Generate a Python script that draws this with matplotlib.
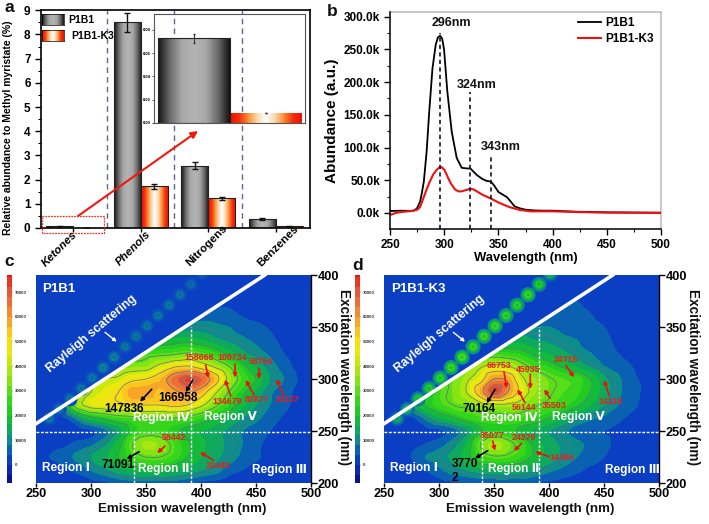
import numpy as np
import matplotlib
matplotlib.use("Agg")
import matplotlib.pyplot as plt
import matplotlib.tri as mtri
from matplotlib.colors import LinearSegmentedColormap, Normalize
from matplotlib.patches import Polygon, Rectangle

plt.rcParams['font.family'] = ['Liberation Sans', 'DejaVu Sans']
plt.rcParams['font.weight'] = 'bold'
plt.rcParams['axes.labelweight'] = 'bold'

W, H = 709, 524

# ---------------------------
# DATA
# ---------------------------
categories = ['Ketones', 'Phenols', 'Nitrogens', 'Benzenes']
p1b1_vals = [0.07, 8.5, 2.58, 0.38]
p1b1_err = [0.01, 0.4, 0.13, 0.03]
k3_vals = [0.008, 1.72, 1.22, 0.07]
k3_err = [0.001, 0.1, 0.07, 0.01]
inset_vals = [0.0725, 0.0085]
inset_err = [0.004, 0.0003]

wl_p1b1 = [250, 260, 270, 273, 275, 277.5, 279, 281, 283.6, 286, 289, 292, 294, 296, 298, 299.7, 302.7, 306.8, 311.4, 316, 320.6,
           324, 327, 330, 335, 339, 343, 346, 350, 354, 358, 365, 370, 375, 382, 390, 400, 420, 450, 500]
abund_p1b1 = [3, 3.5, 3, 4.6, 8, 17, 29, 48, 94, 155, 221, 257, 268, 271, 266, 250, 186, 124, 84, 69, 68,
              68, 63, 58, 52, 49, 48, 42, 32, 28, 24, 10, 7, 5, 4, 3.5, 3.5, 2, 1, 0.3]
wl_k3 = [250, 255, 260, 270, 275, 277.5, 280, 283.6, 286, 289.7, 293, 295, 297.4, 300, 303.6, 306, 309.8, 313, 316, 320, 324, 327, 330, 335,
         343, 350, 360, 370, 380, 400, 420, 450, 500]
abund_k3 = [-3, 0, 1.5, 3, 5, 9, 20, 36, 46, 59, 66, 69, 70, 66, 53, 45, 36, 33, 33, 35, 37, 36, 33, 28,
            22, 16, 9, 4.5, 2.5, 2.5, 1.5, 0.5, 0.2]
peak_wl = [296, 324, 343]
peak_top = [275, 185, 90]

em = [250, 262.5, 275, 287.5, 300, 312.5, 325, 337.5, 350, 362.5, 375, 387.5, 400, 412.5, 425, 437.5, 450, 462.5, 475, 487.5, 500]
ex = [200, 212.5, 225, 237.5, 250, 262.5, 275, 287.5, 300, 312.5, 325, 337.5, 350, 362.5, 375, 387.5, 400]

# intensities in thousands, one row per excitation wavelength
z_c = [
    [1, 1, 1, 1, 2, 3, 5, 6, 6, 6, 6, 5, 3, 2, 1, 1, 1, 1, 1, 1, 1],
    [1, 1, 3, 5, 8, 11, 14, 16, 18, 18, 16, 14, 12, 10, 6, 4, 2, 1, 1, 1, 1],
    [2, 4, 6, 9, 12, 15, 20, 26, 30, 30, 26, 20, 16, 13, 10, 7, 5, 2, 1, 1, 1],
    [1, 2, 3, 5, 7, 11, 18, 30, 37, 35, 28, 21, 17, 14, 11, 8, 5, 3, 2, 1, 1],
    [0.5, 1, 1, 2, 3, 7, 13, 22, 26, 26, 22, 18, 16, 14, 11, 8, 6, 4, 2.5, 1, 1],
    [1, 1, 3, 10, 18, 22, 26, 28, 30, 30, 30, 28, 24, 20, 16, 12, 9, 6, 3.5, 2, 1],
    [2, 4, 14, 35, 44, 46, 48, 50, 50, 50, 52, 50, 42, 32, 24, 17, 12, 8, 5, 3, 1.5],
    [2, 4, 14, 30, 40, 45, 50, 58, 58, 55, 58, 62, 55, 42, 30, 22, 15, 9, 6, 3, 1.5],
    [2, 4, 12, 26, 36, 40, 42, 48, 50, 55, 65, 72, 68, 55, 38, 27, 20, 12, 8, 4, 2],
    [2, 4, 10, 20, 26, 30, 32, 34, 35, 42, 48, 50, 45, 38, 30, 22, 15, 10, 6, 3, 1.5],
    [2, 3, 8, 14, 18, 20, 22, 24, 26, 27, 28, 30, 28, 24, 18, 13, 10, 7, 4, 2, 1],
    [1, 2, 5, 8, 10, 12, 13, 14, 15, 16, 17, 18, 16, 13, 11, 9, 7, 5, 3, 1.5, 1],
    [1, 2, 3, 4, 5, 6, 7, 8, 9, 10, 10, 10, 10, 9, 8, 6, 5, 3.5, 2, 1, 1],
    [1, 1, 2, 2, 3, 3, 4, 4, 5, 5, 6, 6, 6, 6, 5, 3.5, 2.5, 1.5, 1, 1, 1],
    [1, 1, 1, 1, 2, 2, 2, 2, 3, 3, 3, 3, 3, 3, 3, 2, 1.5, 1, 1, 1, 1],
    [1, 1, 1, 1, 1, 1, 1, 1, 1, 2, 2, 2, 2, 2, 1.5, 1, 1, 1, 1, 1, 1],
    [1, 1, 1, 1, 1, 1, 1, 1, 1, 1, 1, 1, 1, 1, 1, 1, 1, 1, 1, 1, 1],
]
z_d = [
    [1, 1, 1, 1, 2, 3, 4, 5, 5, 5, 5, 4, 3, 2, 1, 1, 1, 1, 1, 1, 1],
    [1, 1, 2, 4, 7, 10, 12, 14, 15, 15, 14, 12, 9, 7, 5, 3, 2, 1.5, 1, 1, 1],
    [1, 2, 4, 8, 10, 13, 18, 25, 29, 28, 24, 18, 14, 11, 8, 6, 4, 2, 1.5, 1, 1],
    [1, 1.5, 3, 4, 6, 10, 16, 30, 38, 33, 26, 18, 14, 11, 9, 7, 5, 3, 2, 1, 1],
    [0.5, 1, 1, 2, 3, 6, 11, 19, 22, 22, 18, 15, 12, 9, 6, 4, 4, 3, 2, 1, 1],
    [1, 1.5, 3, 9, 15, 19, 24, 27, 28, 28, 27, 24, 20, 16, 12, 9, 7, 5, 3, 2, 1],
    [2, 5, 12, 20, 26, 30, 32, 36, 38, 38, 35, 31, 28, 25, 21, 16, 12, 8, 5, 3, 2],
    [2, 5, 11, 18, 27, 32, 40, 56, 72, 60, 46, 36, 31, 28, 25, 20, 14, 9, 6, 3, 1.5],
    [2, 4, 9, 15, 24, 31, 38, 46, 60, 58, 42, 36, 31, 28, 26, 20, 13, 9, 5, 3, 1.5],
    [2, 4, 7, 12, 18, 25, 32, 38, 42, 40, 33, 27, 23, 19, 15, 11, 8, 6, 4, 2, 1],
    [1, 3, 5, 9, 13, 17, 20, 23, 25, 24, 22, 18, 15, 13, 10, 8, 6, 4, 2.5, 1.5, 1],
    [1, 2, 4, 6, 8, 10, 11, 13, 14, 14, 14, 12, 11, 9, 8, 6, 5, 3, 2, 1.5, 1],
    [1, 1, 2, 3, 4, 5, 6, 7, 8, 8, 8, 8, 8, 7, 6, 5, 4, 2.5, 1.5, 1, 1],
    [1, 1, 1, 2, 2, 3, 3, 4, 4, 5, 5, 6, 6, 6, 5, 4, 3, 2, 1, 1, 1],
    [1, 1, 1, 1, 1, 2, 2, 2, 2, 3, 3, 3, 4, 4, 4, 3, 2.5, 1.5, 1, 1, 1],
    [1, 1, 1, 1, 1, 1, 1, 1, 1, 1, 2, 2, 2, 2, 2, 1.5, 1, 1, 1, 1, 1],
    [1, 1, 1, 1, 1, 1, 1, 1, 1, 1, 1, 1, 1, 1, 1, 1, 1, 1, 1, 1, 1],
]

bead_em = [262, 271, 281, 291, 301, 311, 321, 331, 341, 351, 361, 371, 381, 391, 401]
bead_c = [8, 8, 8, 8, 8, 9, 9, 8, 8, 8, 8, 8, 8, 7, 6]
bead_d = [14, 16, 20, 22, 24, 26, 28, 26, 26, 26, 24, 24, 26, 22, 16]

cbar_ticks = [0, 10000, 20000, 30000, 40000, 50000, 60000, 70000]

# text, label position, arrow tail, arrow head (pixels of the picture)
notes_c = [
    ('158668', 199, 357, 205.7, 365, 208.3, 378, 'red'),
    ('108734', 232, 358, 235, 364, 235, 377.5, 'red'),
    ('58754', 261, 362, 259, 368.5, 259, 379, 'red'),
    ('134679', 227, 401, 230.7, 396, 225, 379.5, 'red'),
    ('82877', 257, 400, 254, 395, 245.7, 380, 'red'),
    ('33137', 287, 400, 283.3, 395, 276.7, 379, 'red'),
    ('58442', 174, 438, 165, 446, 157.3, 453.3, 'red'),
    ('33440', 218, 465, 213.3, 460, 200, 452.3, 'red'),
    ('147836', 124, 409, 151.7, 389.3, 140, 401.7, 'black'),
    ('166958', 178, 398, 192.7, 380, 185.7, 392.3, 'black'),
    ('71091', 118, 465, 139.3, 451.7, 126.7, 459, 'black'),
]
notes_d = [
    ('66753', 499, 365, 504, 371.7, 506.7, 388.3, 'red'),
    ('45935', 528, 369, 530.3, 374.3, 530.3, 389, 'red'),
    ('24715', 566, 359, 565.7, 365.3, 574, 377.3, 'red'),
    ('56144', 524, 407, 525, 402.7, 517.7, 389.3, 'red'),
    ('35503', 554, 405, 550, 398.3, 544.3, 389.3, 'red'),
    ('14118', 610, 401, 609.3, 395.7, 604, 380, 'red'),
    ('35077', 492, 435, 492.7, 441, 495, 450.7, 'red'),
    ('24279', 524, 438, 521.7, 443.3, 514, 451, 'red'),
    ('14365', 562, 457, 549, 456.7, 535.3, 451.7, 'red'),
    ('70164', 479, 409, 495, 389.3, 486.7, 403.3, 'black'),
]

# ---------------------------
# HELPERS
# ---------------------------
fig = plt.figure(figsize=(W / 100, H / 100), dpi=100)


def px_axes(x0, y0, x1, y1, **kw):
    # axes from picture pixels (y counted downward)
    return fig.add_axes([x0 / W, 1 - y1 / H, (x1 - x0) / W, (y1 - y0) / H], **kw)


grey_cm = LinearSegmentedColormap.from_list('g', ['#151515', '#6e6e6e', '#a8a8a8', '#b4b4b4', '#a8a8a8', '#6e6e6e', '#151515'])
red_cm = LinearSegmentedColormap.from_list('r', ['#ee1000', '#f83010', '#f89030', '#f8d8b0', '#ffffff', '#f8d8b0', '#f89030', '#f83010', '#ee1000'])
band = np.linspace(0, 1, 64).reshape(1, -1)


def gradient_bars(ax, xs, vals, width, cmap, edge='#222222'):
    bars = ax.bar(xs, vals, width, color='none', edgecolor=edge, linewidth=0.8, zorder=3)
    for b in bars:
        im = ax.imshow(band, cmap=cmap, aspect='auto', zorder=2,
                       extent=[b.get_x(), b.get_x() + b.get_width(), 0, b.get_height()])
        im.set_clip_path(b)
    return bars


# ---------------------------
# PANEL A
# ---------------------------
ax_a = px_axes(41, 9.5, 310, 228)
x = np.arange(len(categories))
for sep in [0.5, 1.5, 2.5]:
    ax_a.axvline(sep, color='#5a6a90', lw=1, ls=(0, (4, 3)), zorder=1)
gradient_bars(ax_a, x - 0.2, p1b1_vals, 0.4, grey_cm)
gradient_bars(ax_a, x + 0.2, k3_vals, 0.4, red_cm)
ax_a.errorbar(x - 0.2, p1b1_vals, yerr=p1b1_err, fmt='none', ecolor='#111111', elinewidth=1, capsize=2.5, zorder=4)
ax_a.errorbar(x + 0.2, k3_vals, yerr=k3_err, fmt='none', ecolor='#111111', elinewidth=1, capsize=2.5, zorder=4)
ax_a.set_xlim(-0.474, 3.51)
ax_a.set_ylim(0, 9.03)
ax_a.set_xticks(x)
ax_a.set_xticklabels([])
ax_a.set_yticks(range(10))
ax_a.set_yticks(np.arange(0.5, 9, 0.5), minor=True)
ax_a.tick_params(axis='y', labelsize=8.5, length=4, width=1)
ax_a.tick_params(axis='y', which='minor', length=2.5, width=0.8)
ax_a.tick_params(axis='x', length=3, width=1)
for s in ax_a.spines.values():
    s.set_linewidth(1.2)

ax_in = px_axes(154, 14, 305, 123)
ax_in.patch.set_alpha(0)
gradient_bars(ax_in, [0], inset_vals[:1], 1.0, grey_cm)
gradient_bars(ax_in, [1], inset_vals[1:], 1.0, red_cm, edge='none')
ax_in.errorbar([0, 1], inset_vals, yerr=inset_err, fmt='none', ecolor='#333333', elinewidth=0.8, capsize=1, zorder=4)
ax_in.set_xlim(-0.56, 1.55)
ax_in.set_ylim(0, 0.0935)
ax_in.set_xticks([])
ax_in.set_yticks([0, 0.02, 0.04, 0.06, 0.08])
ax_in.tick_params(axis='y', labelsize=3, length=1.5, width=0.5, pad=1)
for s in ax_in.spines.values():
    s.set_color('#555555')
    s.set_linewidth(0.8)

for (y0, y1, cm) in [(14, 25, grey_cm), (29.5, 41, red_cm)]:
    sw = px_axes(42, y0, 64, y1)
    sw.imshow(band, cmap=cm, aspect='auto')
    sw.set_xticks([])
    sw.set_yticks([])
    for s in sw.spines.values():
        s.set_linewidth(0.5)

# ---------------------------
# PANEL B
# ---------------------------
ax_b = px_axes(390.3, 12, 660.7, 229)
ax_b.plot(wl_p1b1, abund_p1b1, color='black', lw=1.3, label='P1B1')
ax_b.plot(wl_k3, abund_k3, color='#f01010', lw=1.5, label='P1B1-K3')
ax_b.vlines(peak_wl, -24.5, peak_top, colors='#101030', lw=1.2, linestyles=(0, (2.5, 2)))
ax_b.set_xlim(250, 500)
ax_b.set_ylim(-24.5, 307)
ax_b.set_xticks(range(250, 501, 50))
ax_b.set_xticks(range(275, 500, 50), minor=True)
ax_b.set_yticks(range(0, 301, 50))
ax_b.set_yticks(range(25, 300, 50), minor=True)
ax_b.set_yticklabels([f'{v}.0k' for v in range(0, 301, 50)])
ax_b.tick_params(labelsize=8.5, length=4, width=1)
ax_b.tick_params(which='minor', length=2.5, width=0.8)
ax_b.set_xlabel('Wavelength (nm)', fontsize=9.4, labelpad=0.5)
ax_b.set_ylabel('Abundance (a.u.)', fontsize=11, labelpad=3)
ax_b.spines['top'].set_linewidth(0.3)
ax_b.spines['right'].set_linewidth(0.3)
ax_b.spines['left'].set_linewidth(1.1)
ax_b.spines['bottom'].set_linewidth(1.1)
ax_b.legend(loc='upper right', bbox_to_anchor=(1.012, 1.025), frameon=False, fontsize=8.5,
            handlelength=1.95, handletextpad=0.35, labelspacing=0.32)

# ---------------------------
# PANELS C AND D
# ---------------------------
anchors = [(-8, '#0a0a80'), (-2, '#0a28b8'), (2, '#0a3fc4'), (6, '#0a62b0'), (10, '#0c8e8a'), (14, '#0ea860'),
           (18, '#12bc38'), (22, '#20cc22'), (28, '#44dc18'), (34, '#84e414'), (40, '#bce80c'), (46, '#e8ea10'),
           (52, '#fcd818'), (58, '#f8a828'), (64, '#ee7c38'), (70, '#e4583a'), (76, '#e82818'), (80, '#f00808')]
vmin, vmax = anchors[0][0] * 1000, anchors[-1][0] * 1000
map_cm = LinearSegmentedColormap.from_list('map', [((v + 8) / 88, c) for v, c in anchors])
norm = Normalize(vmin, vmax)
levels = np.arange(vmin, vmax + 1, 4000)


def heat_panel(box, cbar_x, z, beads):
    ax = px_axes(*box)
    ax.set_facecolor('#0a3fc4')
    gx, gy = np.meshgrid(em, ex)
    tri = mtri.Triangulation(gx.ravel(), gy.ravel())
    zz = np.array(z, dtype=float).ravel() * 1000
    # smooth drawing of the table on a refined mesh
    fine_tri, fine_z = mtri.UniformTriRefiner(tri).refine_field(zz, mtri.CubicTriInterpolator(tri, zz, kind='geom'), subdiv=3)
    below = Polygon([(250, 200), (500, 200), (500, 400), (458, 400), (250, 257)], transform=ax.transData)
    cf = ax.tricontourf(fine_tri, fine_z, levels=levels, cmap=map_cm, norm=norm, extend='both')
    cf.set_clip_path(below)
    cl = ax.tricontour(fine_tri, fine_z, levels=[10000, 20000, 30000, 40000, 50000, 60000, 70000], colors='#5a7080', linewidths=0.5)
    cl.set_clip_path(below)
    # beads of the scattering band above the line
    vals = np.array(beads) * 1000
    ax.scatter(bead_em, bead_em, s=120, c=vals * 0.4, cmap=map_cm, norm=norm, lw=0, zorder=2)
    ax.scatter(bead_em, bead_em, s=65, c=vals * 0.65, cmap=map_cm, norm=norm, lw=0, zorder=2)
    ax.scatter(bead_em, bead_em, s=30, c=vals, cmap=map_cm, norm=norm, lw=0, zorder=2)
    ax.scatter(bead_em, bead_em, s=5, c=vals * 0.75, cmap=map_cm, norm=norm, lw=0, zorder=2)
    ax.plot([250, 458], [257, 400], color='white', lw=2.6, zorder=5)
    ax.axhline(249, color='white', lw=1, ls=(0, (2, 1.2)), zorder=5)
    ax.plot([390.5, 390.5], [200, 350], color='white', lw=1, ls=(0, (2, 1.2)), zorder=5)
    ax.plot([338.7, 338.7], [200, 249], color='white', lw=1, ls=(0, (2, 1.2)), zorder=5)
    ax.set_xlim(250, 500)
    ax.set_ylim(200, 400)
    ax.set_xticks(range(250, 501, 50))
    ax.set_yticks(range(200, 401, 50))
    ax.yaxis.tick_right()
    ax.tick_params(labelsize=9.2, length=4, width=1, pad=0.5)
    ax.tick_params(axis='x', length=3, pad=0.5)
    for s in ax.spines.values():
        s.set_visible(False)
    ax.spines['right'].set_visible(True)
    ax.spines['right'].set_linewidth(1)

    cax = px_axes(cbar_x, box[1], cbar_x + 5.2, box[3])
    cax.pcolormesh([0, 1], levels, ((levels[:-1] + levels[1:]) / 2).reshape(-1, 1), cmap=map_cm, norm=norm)
    cax.set_xticks([])
    cax.yaxis.tick_right()
    cax.set_ylim(-7300, 76900)
    cax.set_yticks(cbar_ticks)
    cax.tick_params(axis='y', labelsize=3.2, length=1, width=0.3, pad=0.8, colors='#333333')
    for s in cax.spines.values():
        s.set_visible(False)
    return ax


heat_panel((36, 275, 311, 483), 6.8, z_c, bead_c)
heat_panel((384, 275, 659, 483), 355, z_d, bead_d)

# ---------------------------
# ANNOTATIONS, pixel coordinates of the picture
# ---------------------------
top = fig.add_axes([0, 0, 1, 1])
top.set_xlim(0, W)
top.set_ylim(H, 0)
top.axis('off')
top.patch.set_alpha(0)


def arrow(x0, y0, x1, y1, color, lw=1.2, ms=6):
    top.annotate('', xy=(x1, y1), xytext=(x0, y0),
                 arrowprops=dict(arrowstyle='-|>', color=color, lw=lw, mutation_scale=ms, shrinkA=0, shrinkB=0))


for txt, lx, ly in [('a', 9, 7), ('b', 332, 12), ('c', 9, 262), ('d', 358, 266)]:
    top.text(lx, ly, txt, fontsize=12.5, ha='center', va='center', color='#111111')

top.text(8, 128, 'Relative abundance to Methyl myristate (%)', rotation=90, fontsize=7.45, ha='center', va='center')
top.text(68, 20, 'P1B1', fontsize=7.5, va='center')
top.text(71, 36, 'P1B1-K3', fontsize=7.5, va='center')
top.add_patch(Rectangle((41.5, 216), 62, 17, fill=False, ec='#ee3322', lw=0.9, ls=(0, (1.5, 0.8))))
arrow(78, 216, 198, 131, '#ee1a10', lw=1.5, ms=10)

label_xy = [(60, 249), (133, 248), (207, 246), (278, 246)]
label_style = ['italic', 'italic', 'normal', 'normal']
for name, (lx, ly), st in zip(categories, label_xy, label_style):
    top.text(lx, ly, name, rotation=45, style=st, fontsize=8.2, ha='center', va='center')

for lab, lx, ly in [('296nm', 451, 23), ('324nm', 476.7, 85), ('343nm', 501, 147)]:
    top.text(lx, ly, lab, fontsize=9, ha='center', va='center', color='#111111')

for name, nx, tx, ar, notes, regions, ylab_x, cx in [
    ('P1B1', 59, 91.7, (105, 332.3, 116.7, 341.7), notes_c,
     [(161.7, 'Region Ⅳ', 418.3), (230, 'Region Ⅴ', 416.7), (66, 'Region Ⅰ', 467.7), (163.3, 'Region Ⅱ', 469), (279.3, 'Region Ⅲ', 470.3)],
     344, 182),
    ('P1B1-K3', 418, 440, (453.3, 332.3, 465, 341.7), notes_d,
     [(509.3, 'Region Ⅳ', 418.3), (578.3, 'Region Ⅴ', 417.3), (414, 'Region Ⅰ', 467.7), (513.3, 'Region Ⅱ', 469), (632.3, 'Region Ⅲ', 470.3)],
     692.5, 530),
]:
    top.text(nx, 289.5, name, color='white', fontsize=9.5, ha='center', va='center')
    top.text(tx, 334, 'Rayleigh scattering', color='white', fontsize=8.8, rotation=40, ha='center', va='center')
    arrow(*ar, 'white', lw=1, ms=5)
    for n, lx, ly, x0, y0, x1, y1, col in notes:
        small = col == 'red'
        top.text(lx, ly, n, color='#ee1c1c' if small else 'black', fontsize=6.4 if small else 8.6,
                 ha='center', va='center')
        arrow(x0, y0, x1, y1, '#ee1010' if small else 'black', lw=1.2, ms=5.5)
    for rx, rt, ry in regions:
        top.text(rx, ry, rt, color='white', fontsize=8.6, ha='center', va='center')
    top.text(ylab_x, 377, 'Excitation wavelength (nm)', rotation=270, fontsize=9.8, ha='center', va='center', color='#111111')
    top.text(cx, 509, 'Emission wavelength (nm)', fontsize=9.6, ha='center', va='center', color='#111111')

# the broken label in panel d
top.text(451.7, 471, '3770\n2', color='black', fontsize=8.6, ha='left', va='center', linespacing=1.15)
arrow(487.7, 450.7, 475, 458.3, 'black', lw=1.2, ms=5.5)

fig.savefig('out.png', dpi=100)
